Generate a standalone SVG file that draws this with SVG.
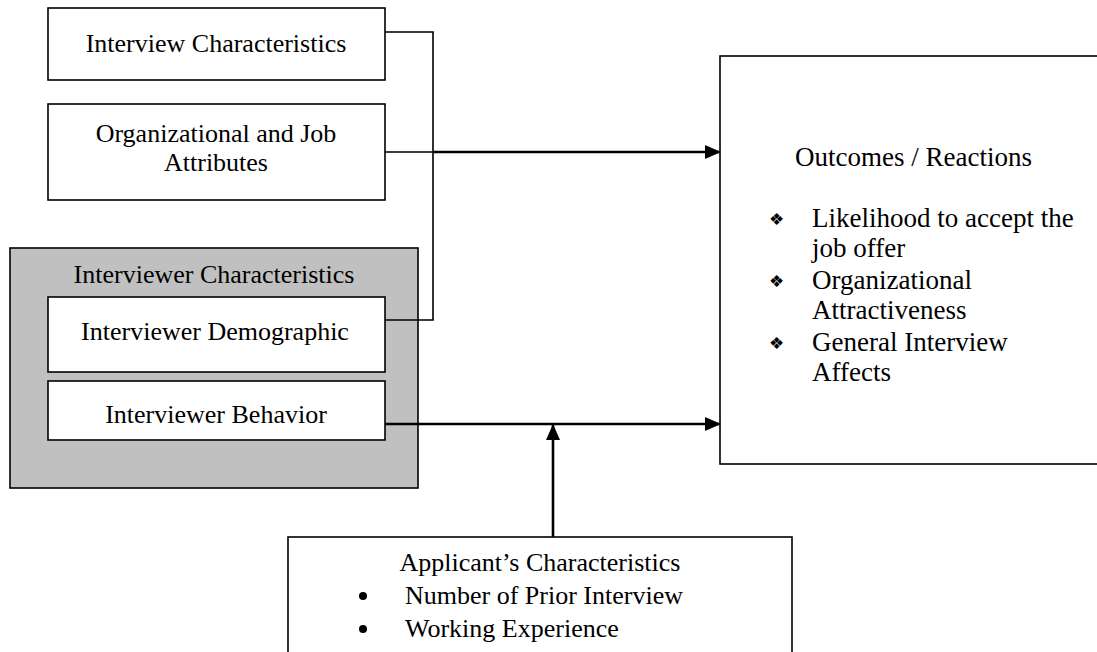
<svg xmlns="http://www.w3.org/2000/svg" width="1097" height="652" viewBox="0 0 1097 652">
<style>
.box{fill:#fff;stroke:#000;stroke-width:1.6}
.gray{fill:#c0c0c0;stroke:#000;stroke-width:1.6}
.t{font-family:"Liberation Serif","Times New Roman",serif;font-size:26px;fill:#000}
.o{font-size:27px}
.b{font-size:17px}
.c{text-anchor:middle}
.thin{fill:none;stroke:#000;stroke-width:1.6}
.thick{fill:none;stroke:#000;stroke-width:2.6}
</style>
<defs>
<marker id="ah" markerWidth="16" markerHeight="14" refX="15" refY="7" orient="auto" markerUnits="userSpaceOnUse">
<path d="M0,0 L16,7 L0,14 Z" fill="#000"/>
</marker>
</defs>
<rect width="1097" height="652" fill="#fff"/>
<g id="interview-characteristics">
<rect class="box" x="48" y="8" width="337" height="72"/>
<text class="t c" x="216" y="52">Interview Characteristics</text>
</g>
<g id="org-job-attributes">
<rect class="box" x="48" y="104" width="337" height="96"/>
<text class="t c" x="216" y="142">Organizational and Job</text>
<text class="t c" x="216" y="171">Attributes</text>
</g>
<g id="interviewer-characteristics">
<rect class="gray" x="10" y="248" width="408" height="240"/>
<text class="t c" x="214" y="283">Interviewer Characteristics</text>
</g>
<g id="interviewer-demographic">
<rect class="box" x="48" y="297" width="337" height="75"/>
<text class="t c" x="215" y="340">Interviewer Demographic</text>
</g>
<g id="interviewer-behavior">
<rect class="box" x="48" y="381" width="337" height="59"/>
<text class="t c" x="216" y="423">Interviewer Behavior</text>
</g>
<g id="outcomes">
<rect class="box" x="720" y="56" width="400" height="408"/>
<text class="t o" x="795" y="166">Outcomes / Reactions</text>
<text class="t b" x="769" y="225">❖</text>
<text class="t o" x="812" y="227">Likelihood to accept the</text>
<text class="t o" x="812" y="257">job offer</text>
<text class="t b" x="769" y="287">❖</text>
<text class="t o" x="812" y="289">Organizational</text>
<text class="t o" x="812" y="319">Attractiveness</text>
<text class="t b" x="769" y="349">❖</text>
<text class="t o" x="812" y="351">General Interview</text>
<text class="t o" x="812" y="381">Affects</text>
</g>
<g id="applicant">
<rect class="box" x="288" y="537" width="504" height="140"/>
<text class="t c" x="540" y="571">Applicant’s Characteristics</text>
<circle cx="363" cy="596" r="4"/>
<text class="t" x="405" y="604">Number of Prior Interview</text>
<circle cx="363" cy="629" r="4"/>
<text class="t" x="405" y="637">Working Experience</text>
</g>
<g id="connectors">
<path class="thin" d="M385,32 H433 V320 H385"/>
<path class="thin" d="M385,152 H433"/>
<path class="thick" d="M433,152 H720" marker-end="url(#ah)"/>
<path class="thick" d="M385,424 H720" marker-end="url(#ah)"/>
<path class="thick" d="M553,537 V425" marker-end="url(#ah)"/>
</g>
</svg>
